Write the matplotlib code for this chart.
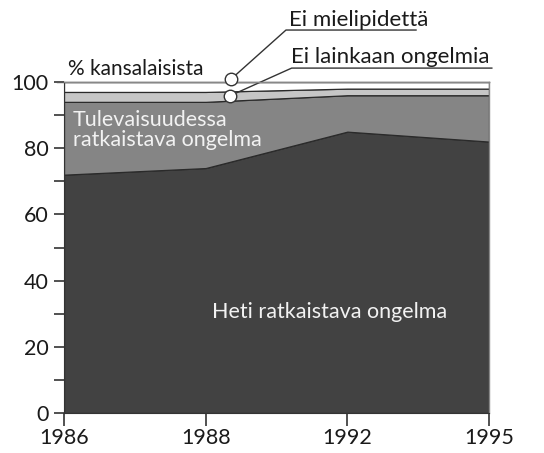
import matplotlib
matplotlib.use("Agg")
import matplotlib.pyplot as plt
import numpy as np

years = ["1986", "1988", "1992", "1995"]
heti = [72, 74, 85, 82]
tulevaisuudessa = [22, 20, 11, 14]
ei_lainkaan = [3, 3, 2, 2]
ei_mielipidetta = [3, 3, 2, 2]

plt.rcParams['font.family'] = ['Lato', 'DejaVu Sans']

fig = plt.figure(figsize=(5.44, 4.53), dpi=100)
ax = fig.add_axes([64/544, 40/453, 425/544, 331/453])
x = np.arange(len(years))

colors = ['#424242', '#858585', '#c6c6c6', '#ffffff']
ax.stackplot(x, heti, tulevaisuudessa, ei_lainkaan, ei_mielipidetta,
             colors=colors, edgecolor='#2a2a2a', linewidth=0.9)

ax.set_xlim(0, 3)
ax.set_ylim(0, 100)
ax.set_xticks(x)
ax.set_xticklabels(years)
ax.set_yticks(np.arange(0, 101, 20))
ax.set_yticks(np.arange(10, 100, 20), minor=True)
ax.tick_params(axis='y', which='both', length=7, width=1.2, color='#333333',
               labelsize=15.5, pad=4, labelcolor='#1a1a1a')
ax.tick_params(axis='x', length=9, width=1.2, color='#333333', labelsize=15.5, pad=2,
               labelcolor='#1a1a1a')
for s in ['top', 'right']:
    ax.spines[s].set_color('#888888')
    ax.spines[s].set_linewidth(1.0)
ax.spines['left'].set_color('#333333')
ax.spines['bottom'].set_color('#333333')

# 100 line extending to the tick
ax.plot([-0.05, 3], [100, 100], color='#555555', lw=1.0, clip_on=False)

fs = 15.5
ax.text(0.028, 102.1, "% kansalaisista", fontsize=15, color='#1a1a1a', va='baseline')
ax.text(0.064, 86.7, "Tulevaisuudessa", fontsize=fs, color='#f2f2f2', va='baseline')
ax.text(0.064, 80.7, "ratkaistava ongelma", fontsize=fs, color='#f2f2f2', va='baseline')
ax.text(1.045, 28.7, "Heti ratkaistava ongelma", fontsize=fs, color='#f2f2f2', va='baseline')

# leader lines
ax.plot([1.18, 1.567, 2.485], [100.9, 115.7, 115.7], color='#333333', lw=1.0, clip_on=False)
ax.plot([1.17, 1.607, 3.02], [95.8, 104.2, 104.2], color='#333333', lw=1.0, clip_on=False)
ax.plot([1.18, 1.17], [100.9, 95.8], 'o', ms=9, mfc='white', mec='#333333', mew=1.0,
        clip_on=False, zorder=5, linestyle='none')
ax.text(1.588, 116.9, "Ei mielipidettä", fontsize=16, color='#1a1a1a', va='baseline')
ax.text(1.602, 105.7, "Ei lainkaan ongelmia", fontsize=16, color='#1a1a1a', va='baseline')

fig.savefig("out.png", dpi=100)
